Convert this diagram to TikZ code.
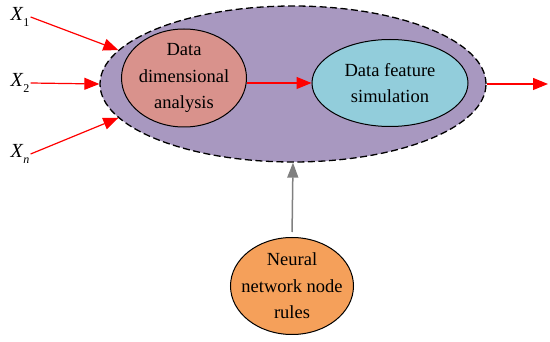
\documentclass[tikz,border=0pt]{standalone}
\usepackage{fontspec}
\setmainfont{Liberation Serif}
\usetikzlibrary{shapes.geometric,arrows.meta}
\definecolor{purp}{HTML}{A898C0}
\definecolor{rose}{HTML}{D9928C}
\definecolor{aqua}{HTML}{92CDDB}
\definecolor{orng}{HTML}{F5A05A}
\begin{document}
\begin{tikzpicture}[x=1pt,y=-1pt,
    blob/.style={ellipse,draw,line width=1pt,inner sep=-8pt,align=center,font=\fontsize{18.5}{26.5}\selectfont},
    redarr/.style={red,line width=1.2pt,-{Triangle[length=15pt,width=12pt]}},
    lbl/.style={inner sep=1pt,font=\fontsize{20}{22}\selectfont}]
    \useasboundingbox (0,0) rectangle (550,342);
    \node[ellipse,draw,line width=1.3pt,dash pattern=on 7pt off 3.5pt,fill=purp,minimum width=386pt,minimum height=156pt,inner sep=0pt] (sys) at (293,84) {};
    \node[blob,fill=rose,minimum width=125pt,minimum height=98pt] (dda) at (184,78) {Data\\dimensional\\analysis};
    \node[blob,fill=aqua,minimum width=156pt,minimum height=87pt] (dfs) at (390,83) {Data feature\\simulation};
    \node[blob,fill=orng,minimum width=123pt,minimum height=97pt] (nnr) at (292,286) {Neural\\network node\\rules};
    \node[lbl] (x1) at (20,17) {\textit{X}\raisebox{-6pt}{\fontsize{12}{12}\selectfont 1}};
    \node[lbl] (x2) at (20,83) {\textit{X}\raisebox{-6pt}{\fontsize{12}{12}\selectfont 2}};
    \node[lbl] (xn) at (20,154) {\textit{X}\raisebox{-6pt}{\fontsize{12}{12}\selectfont\itshape n}};
    \coordinate (out) at (548,84);
    \draw[redarr] (x1.east) -- (sys.169);
    \draw[redarr] (x2.east) -- (sys.west);
    \draw[redarr] (xn.east) -- (sys.191);
    \draw[redarr] (dda.east |- dfs.west) -- (dfs.west);
    \draw[redarr] (sys.east) -- (out);
    \draw[gray,line width=1.5pt,-{Triangle[length=15pt,width=11pt]},shorten <=5pt] (nnr.north) -- (sys.south);
\end{tikzpicture}
\end{document}
